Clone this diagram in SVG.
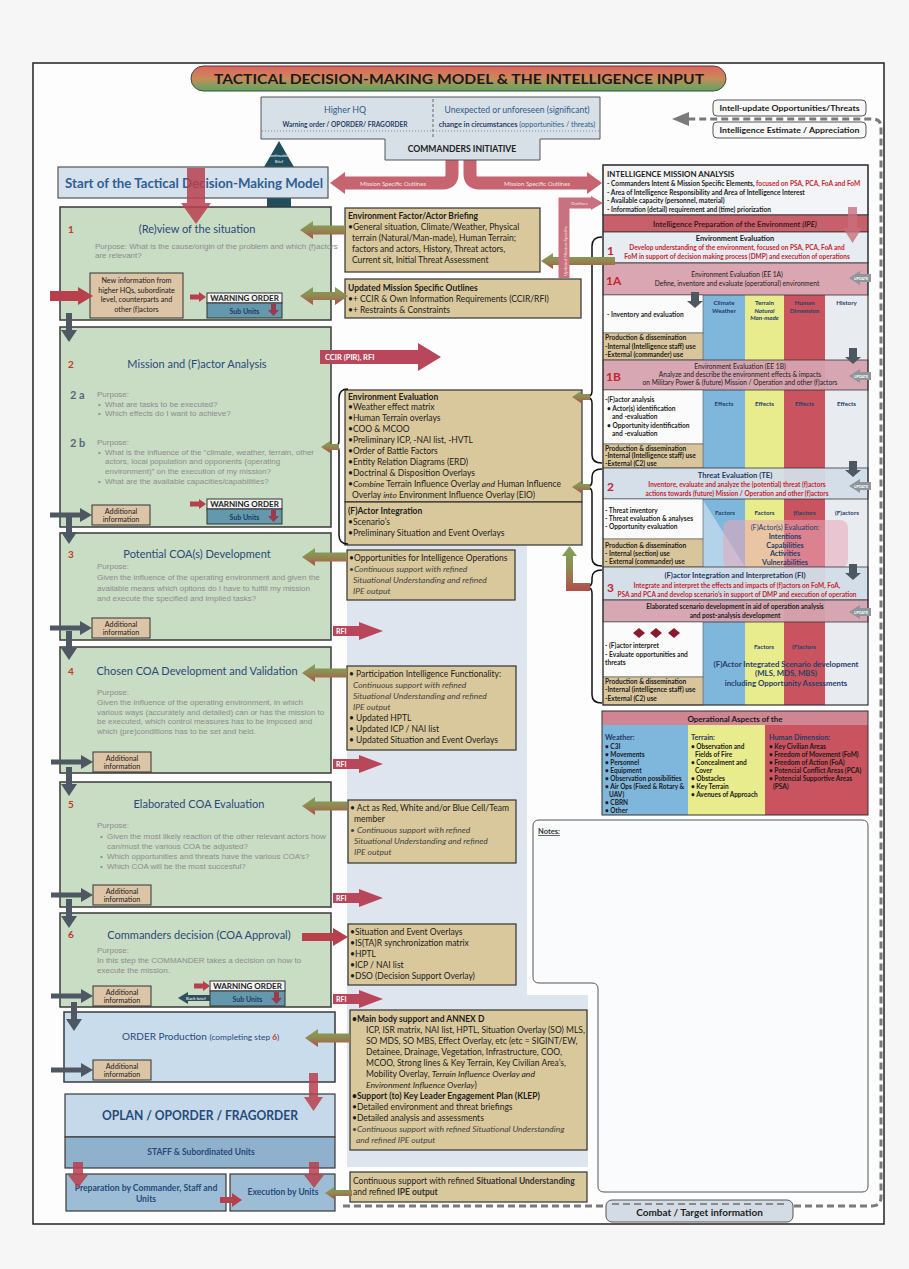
<svg xmlns="http://www.w3.org/2000/svg" width="909" height="1269" viewBox="0 0 909 1269">
<defs>
<style>
text{font-family:Lato,"Liberation Sans",sans-serif;}
.stp{fill:#c9dcc4;stroke:#3a3a3a;stroke-width:1.5;}
.tan{fill:#d8c89c;stroke:#333;stroke-width:1.2;}
.num{font-weight:bold;font-size:10px;fill:#c0392b;}
.hd{font-size:11px;fill:#2b4a78;text-anchor:middle;}
.pp{font-family:"Liberation Sans",Arial,sans-serif;font-size:8px;fill:#8c8c8c;}
.sub{font-weight:bold;font-size:11px;fill:#5a6878;}
.t{font-size:8.5px;fill:#1c1c1c;}
.tb{font-size:8.5px;fill:#1c1c1c;font-weight:bold;}
.ti{font-style:italic;fill:#444;}
.r{font-size:6.6px;fill:#1c1c1c;font-weight:bold;}
.rr{font-size:6.5px;fill:#c4262e;font-weight:bold;text-anchor:middle;}
.rc{font-size:6.6px;fill:#1c1c1c;text-anchor:middle;}
.cl{font-size:6.2px;fill:#24406a;font-weight:bold;text-anchor:middle;}
.big{font-size:12px;fill:#c4262e;font-weight:bold;}
.oa{font-size:6.5px;fill:#1a1a1a;font-weight:bold;}
.oh{font-size:7.2px;fill:#1f3a66;font-weight:bold;}
.wo{font-size:8px;font-weight:bold;fill:#222;text-anchor:middle;}
.su{font-size:7px;font-weight:bold;fill:#1f3a5f;text-anchor:middle;}
.ai{font-size:7.2px;fill:#222;text-anchor:middle;}
.wh{fill:#fff;font-weight:bold;}
</style>
<linearGradient id="gTitle" x1="0" y1="0" x2="0" y2="1">
<stop offset="0" stop-color="#e0625c"/><stop offset="0.5" stop-color="#c98a5c"/><stop offset="1" stop-color="#5aa860"/>
</linearGradient>
<linearGradient id="gGR" x1="0" y1="0" x2="0" y2="1">
<stop offset="0" stop-color="#7fa35a"/><stop offset="0.5" stop-color="#908a50"/><stop offset="1" stop-color="#b24e4a"/>
</linearGradient>
<polygon id="gl" points="0,0 13,-9 13,-4.5 45,-4.5 45,4.5 13,4.5 13,9" fill="url(#gGR)"/>
<polygon id="gls" points="0,0 9,-6 9,-3 18,-3 18,3 9,3 9,6" fill="url(#gGR)"/>
<polygon id="dr" points="0,-2.5 30,-2.5 30,-7 42,0 30,7 30,2.5 0,2.5" fill="#4d5862"/>
<polygon id="dd" points="-3,0 3,0 3,17 8,17 0,29 -8,17 -3,17" fill="#4d5862"/>
<polygon id="ddr" points="-4,0 4,0 4,9 8,9 0,16 -8,9 -4,9" fill="#4d5862"/>
<g id="rfi"><polygon points="0,-5 26,-5 26,-9 50,0 26,9 26,5 0,5" fill="#b8475c"/><text x="3" y="2.6" font-size="7" class="wh">RFI</text></g>
<g id="upd"><polygon points="22,-4 11,-4 11,-7 0,0 11,7 11,4 22,4" fill="#8e959b"/><text x="12" y="1.5" font-size="3.6" class="wh" text-anchor="middle">UPDATE</text></g>
<g id="addi"><rect x="0" y="0" width="58" height="20" fill="#dcc4a6" stroke="#333" stroke-width="1"/><text x="29" y="8.5" class="ai">Additional</text><text x="29" y="17" class="ai">information</text></g>
<g id="worder"><rect x="0" y="0" width="75" height="10" fill="#f4f4f4" stroke="#333" stroke-width="1"/><rect x="0" y="10" width="75" height="15" fill="#6499ad" stroke="#333" stroke-width="1"/><text x="37.5" y="8.4" class="wo">WARNING ORDER</text><text x="37.5" y="20.5" class="su">Sub Units</text><polygon points="64,11 69,11 69,17 72,17 66.5,23 61,17 64,17" fill="#9a3a4a"/></g>
<polygon id="rsm" points="0,-2.5 9,-2.5 9,-5 16,0 9,5 9,2.5 0,2.5" fill="#b8404d"/>
</defs>

<rect x="0" y="0" width="909" height="1269" fill="#f6f6f6"/>
<rect x="33" y="63" width="851" height="1161" fill="#fdfdfd" stroke="#222" stroke-width="1.5"/>

<g id="title">
<rect x="191" y="66" width="535" height="25" rx="12.5" fill="url(#gTitle)" stroke="#444" stroke-width="1"/>
<text x="459" y="83.5" font-size="14" font-weight="bold" fill="#1a1a1a" text-anchor="middle" textLength="490" lengthAdjust="spacingAndGlyphs">TACTICAL DECISION-MAKING MODEL  &amp; THE INTELLIGENCE INPUT</text>
</g>

<g id="connectors">
<path d="M343,1206 H872 Q881,1206 881,1197 V127 Q881,119 872,119 H688" fill="none" stroke="#7a7a7a" stroke-width="3" stroke-dasharray="7 4"/>
<polygon points="689,112 672,119 689,126" fill="#7a7a7a"/>
<polygon points="279,141 298,174 291,174 291,214 267,214 267,174 260,174" fill="#1f4f5c"/>
<text x="279" y="157" font-size="3.8" fill="#fff" text-anchor="middle">Continuation</text>
<text x="279" y="163" font-size="3.8" fill="#fff" text-anchor="middle">Brief</text>
<path d="M452,159 V174 Q452,183 443,183 H344" fill="none" stroke="#c66470" stroke-width="13"/>
<polygon points="345,172 330,183 345,194" fill="#c66470"/>
<text x="393" y="185.5" font-size="6" fill="#fbe3e6" text-anchor="middle">Mission Specific Outlines</text>
<path d="M470,159 V174 Q470,183 479,183 H588" fill="none" stroke="#c66470" stroke-width="13"/>
<polygon points="587,172 602,183 587,194" fill="#c66470"/>
<text x="537" y="185.5" font-size="6" fill="#fbe3e6" text-anchor="middle">Mission Specific Outlines</text>
</g>

<g id="higherhq">
<path d="M261,97 H600 V139 H540 V160 H385 V139 H261 Z" fill="#d7dfe7" stroke="#555" stroke-width="1"/>
<line x1="433" y1="99" x2="433" y2="137" stroke="#666" stroke-dasharray="3 2"/>
<line x1="262" y1="131" x2="599" y2="131" stroke="#8a8a8a" stroke-dasharray="1 2"/>
<text x="345" y="113" font-size="8.8" fill="#2f5b8c" text-anchor="middle">Higher HQ</text>
<text x="345" y="127" font-size="6.6" font-weight="bold" fill="#2a3f66" text-anchor="middle">Warning order / OPORDER/  FRAGORDER</text>
<text x="517" y="113" font-size="8.6" fill="#2f5b8c" text-anchor="middle">Unexpected or unforeseen (significant)</text>
<text x="517" y="127" font-size="7.3" fill="#2f5b8c" text-anchor="middle"><tspan font-weight="bold" fill="#2a3f66">change in circumstances</tspan> (opportunities / threats)</text>
<text x="462" y="152" font-size="8.6" font-weight="bold" fill="#222" text-anchor="middle">COMMANDERS INITIATIVE</text>
</g>

<g id="intelupdate">
<rect x="713" y="100" width="153" height="16" rx="4" fill="#f8f8f8" stroke="#555"/>
<text x="789.5" y="111" font-size="8" font-weight="bold" fill="#222" text-anchor="middle" textLength="140" lengthAdjust="spacingAndGlyphs">Intell-update Opportunities/Threats</text>
<rect x="713" y="122" width="153" height="16" rx="4" fill="#f8f8f8" stroke="#555"/>
<text x="789.5" y="133" font-size="8" font-weight="bold" fill="#222" text-anchor="middle" textLength="140" lengthAdjust="spacingAndGlyphs">Intelligence Estimate / Appreciation</text>
</g>

<g id="start">
<rect x="58" y="167" width="270" height="31" fill="#d5e1ed" stroke="#555" stroke-width="1.2"/>
<text x="65" y="188" font-size="13" font-weight="bold" fill="#2f5f94" textLength="258" lengthAdjust="spacingAndGlyphs">Start of the Tactical Decision-Making Model</text>
</g>

<g id="step1">
<rect class="stp" x="60" y="207" width="271" height="113"/>
<text class="num" x="68" y="233">1</text>
<text class="hd" x="197" y="233">(Re)view of the situation</text>
<text class="pp" x="95" y="249" font-size="7.6">Purpose: What is the cause/origin of the problem and which (f)actors</text>
<text class="pp" x="95" y="258" font-size="7.6">are relevant?</text>
<rect x="90" y="273" width="93" height="45" fill="#dcc4a6" stroke="#333"/>
<text class="ai" x="136.5" y="283" font-size="7.5">New information from</text>
<text class="ai" x="136.5" y="292.5" font-size="7.5">higher HQs, subordinate</text>
<text class="ai" x="136.5" y="302" font-size="7.5">level, counterparts and</text>
<text class="ai" x="136.5" y="311.5" font-size="7.5">other (f)actors</text>
<use href="#worder" x="207" y="293"/>
</g>

<g id="step2">
<rect class="stp" x="60" y="327" width="271" height="200"/>
<text class="num" x="68" y="368">2</text>
<text class="hd" x="197" y="368">Mission and (F)actor Analysis</text>
<text class="sub" x="70" y="399">2 a</text>
<text class="pp" x="97" y="397" font-size="7.8">Purpose:</text>
<text class="pp" x="98" y="406.5" font-size="7.8">•</text><text class="pp" x="105" y="406.5" font-size="7.8">What are tasks to be executed?</text>
<text class="pp" x="98" y="416" font-size="7.8">•</text><text class="pp" x="105" y="416" font-size="7.8">Which effects do I want to achieve?</text>
<text class="sub" x="70" y="447">2 b</text>
<text class="pp" x="97" y="445" font-size="7.8">Purpose:</text>
<text class="pp" x="98" y="454.5" font-size="7.8">•</text><text class="pp" x="105" y="454.5" font-size="7.8">What is the influence of the “climate, weather, terrain, other</text>
<text class="pp" x="105" y="464" font-size="7.8">actors, local population and opponents (operating</text>
<text class="pp" x="105" y="473.5" font-size="7.8">environment)” on the execution of my mission?</text>
<text class="pp" x="98" y="483.5" font-size="7.8">•</text><text class="pp" x="105" y="483.5" font-size="7.8">What are the available capacities/capabilities?</text>
<use href="#addi" x="92" y="505"/>
<use href="#worder" x="207" y="499"/>
</g>

<g id="step3">
<rect class="stp" x="60" y="533" width="271" height="107"/>
<text class="num" x="68" y="558">3</text>
<text class="hd" x="197" y="558">Potential COA(s) Development</text>
<text class="pp" x="97" y="569">Purpose:</text>
<text class="pp" x="97" y="580">Given the influence of the operating environment and given the</text>
<text class="pp" x="97" y="590.5">available means which options do I have to fulfill my mission</text>
<text class="pp" x="97" y="601">and execute the specified and implied tasks?</text>
<use href="#addi" x="92" y="618"/>
</g>

<g id="step4">
<rect class="stp" x="60" y="647" width="271" height="126"/>
<text class="num" x="68" y="675">4</text>
<text class="hd" x="197" y="675">Chosen COA Development and Validation</text>
<text class="pp" x="97" y="695">Purpose:</text>
<text class="pp" x="97" y="705">Given the influence of the operating environment, in which</text>
<text class="pp" x="97" y="714.5">various ways (accurately and detailed) can or has the mission to</text>
<text class="pp" x="97" y="724">be executed, which control measures has to be imposed and</text>
<text class="pp" x="97" y="733.5">which (pre)conditions has to be set and held.</text>
<use href="#addi" x="93" y="752"/>
</g>

<g id="step5">
<rect class="stp" x="60" y="782" width="271" height="125"/>
<text class="num" x="68" y="808">5</text>
<text class="hd" x="199" y="808">Elaborated COA Evaluation</text>
<text class="pp" x="97" y="828">Purpose:</text>
<text class="pp" x="100" y="839">•</text><text class="pp" x="107" y="839">Given the most likely reaction of the other relevant actors how</text>
<text class="pp" x="107" y="848.5">can/must the various COA be adjusted?</text>
<text class="pp" x="100" y="858.5">•</text><text class="pp" x="107" y="858.5">Which opportunities and threats have the various COA’s?</text>
<text class="pp" x="100" y="868.5">•</text><text class="pp" x="107" y="868.5">Which COA will be the most succesful?</text>
<use href="#addi" x="93" y="885"/>
</g>

<g id="step6">
<rect class="stp" x="60" y="913" width="271" height="94"/>
<text class="num" x="68" y="938">6</text>
<text class="hd" x="199" y="939">Commanders decision (COA Approval)</text>
<text class="pp" x="97" y="953">Purpose:</text>
<text class="pp" x="97" y="963">In this step the COMMANDER takes a decision on how to</text>
<text class="pp" x="97" y="972.5">execute the mission.</text>
<use href="#addi" x="93" y="986"/>
<use href="#worder" x="210" y="981"/>
<polygon points="178,998 188,992 188,995 210,995 210,1001 188,1001 188,1004" fill="#2f4f5f"/>
<text x="196" y="999.8" font-size="4.4" fill="#fff" text-anchor="middle">Back-brief</text>
</g>

<g id="orderprod">
<rect x="64" y="1012" width="271" height="70" fill="#c9dcec" stroke="#3a3a3a" stroke-width="1.5"/>
<text x="122" y="1040" font-size="10" fill="#2b4a78">ORDER Production <tspan font-size="8.4">(completing step <tspan fill="#c0392b" font-weight="bold">6</tspan>)</tspan></text>
<use href="#addi" x="93" y="1060"/>
</g>

<g id="oplan">
<rect x="65" y="1094" width="270" height="43" fill="#c5d9ea" stroke="#3a3a3a" stroke-width="1.2"/>
<text x="200" y="1120" font-size="12.5" font-weight="bold" fill="#254a7a" text-anchor="middle" textLength="196" lengthAdjust="spacingAndGlyphs">OPLAN / OPORDER / FRAGORDER</text>
</g>
<g id="staff">
<rect x="65" y="1137" width="270" height="31" fill="#8fb1cc" stroke="#3a3a3a" stroke-width="1.2"/>
<text x="201" y="1155" font-size="8.5" font-weight="bold" fill="#254a7a" text-anchor="middle">STAFF &amp; Subordinated Units</text>
</g>
<g id="prep">
<rect x="66" y="1174" width="160" height="37" fill="#9dbdd6" stroke="#3a3a3a" stroke-width="1.2"/>
<text x="146" y="1191" font-size="8.6" font-weight="bold" fill="#254a7a" text-anchor="middle">Preparation by Commander, Staff and</text>
<text x="146" y="1201.5" font-size="8.6" font-weight="bold" fill="#254a7a" text-anchor="middle">Units</text>
</g>
<g id="exec">
<rect x="230" y="1174" width="105" height="37" fill="#9dbdd6" stroke="#3a3a3a" stroke-width="1.2"/>
<text x="283" y="1195" font-size="8.5" font-weight="bold" fill="#254a7a" text-anchor="middle">Execution by Units</text>
</g>

<path d="M347,545 H527 V995 H588 V1167 H347 Z" fill="#dfe5ee"/>

<g id="envbrief">
<rect class="tan" x="345" y="208" width="195" height="64"/>
<text class="tb" x="348" y="219">Environment Factor/Actor Briefing</text>
<text class="t" x="348" y="230">•General situation, Climate/Weather, Physical</text>
<text class="t" x="352" y="241">terrain (Natural/Man-made), Human Terrain;</text>
<text class="t" x="352" y="252">factors and actors, History, Threat actors,</text>
<text class="t" x="352" y="263">Current sit, Initial Threat Assessment</text>
</g>
<g id="updmso">
<rect class="tan" x="345" y="279" width="236" height="39"/>
<text class="tb" x="348" y="291">Updated Mission Specific Outlines</text>
<text class="t" x="348" y="302">•+ CCIR &amp; Own Information Requirements (CCIR/RFI)</text>
<text class="t" x="348" y="312.5">•+ Restraints &amp; Constraints</text>
</g>
<g id="enveval">
<rect class="tan" x="345" y="390" width="237" height="112"/>
<text class="tb" x="348" y="400">Environment Evaluation</text>
<text class="t" x="348" y="410">•Weather effect matrix</text>
<text class="t" x="348" y="421">•Human Terrain overlays</text>
<text class="t" x="348" y="432">•COO &amp; MCOO</text>
<text class="t" x="348" y="443">•Preliminary ICP, -NAI list, -HVTL</text>
<text class="t" x="348" y="454">•Order of Battle Factors</text>
<text class="t" x="348" y="465">•Entity Relation Diagrams (ERD)</text>
<text class="t" x="348" y="476">•Doctrinal &amp; Disposition Overlays</text>
<text class="t" x="348" y="487">•<tspan font-style="italic">Combine</tspan> Terrain Influence Overlay <tspan font-style="italic">and</tspan> Human Influence</text>
<text class="t" x="352" y="498">Overlay <tspan font-style="italic">into</tspan> Environment Influence Overlay (EIO)</text>
</g>
<g id="factint">
<rect class="tan" x="345" y="502" width="237" height="43"/>
<text class="tb" x="348" y="514">(F)Actor Integration</text>
<text class="t" x="348" y="525">•Scenario’s</text>
<text class="t" x="348" y="536">•Preliminary Situation and Event Overlays</text>
</g>
<g id="oppint">
<rect class="tan" x="347" y="550" width="168" height="50"/>
<text class="t" x="349" y="561">•Opportunities for Intelligence Operations</text>
<text class="t ti" x="349" y="572">•Continuous support with refined</text>
<text class="t ti" x="353" y="583">Situational Understanding and refined</text>
<text class="t ti" x="353" y="594">IPE output</text>
</g>
<g id="particip">
<rect class="tan" x="347" y="666" width="169" height="84"/>
<text class="t" x="349" y="677">• Participation Intelligence Functionality:</text>
<text class="t ti" x="353" y="688">Continuous support with refined</text>
<text class="t ti" x="353" y="699">Situational Understanding and refined</text>
<text class="t ti" x="353" y="710">IPE output</text>
<text class="t" x="349" y="721">• Updated HPTL</text>
<text class="t" x="349" y="732">• Updated ICP / NAI list</text>
<text class="t" x="349" y="743">• Updated Situation and Event Overlays</text>
</g>
<g id="actred">
<rect class="tan" x="348" y="800" width="168" height="63"/>
<text class="t" x="350" y="811">• Act as Red, White and/or Blue Cell/Team</text>
<text class="t" x="354" y="822">member</text>
<text class="t ti" x="350" y="833">• Continuous support with refined</text>
<text class="t ti" x="354" y="844">Situational Understanding and refined</text>
<text class="t ti" x="354" y="855">IPE output</text>
</g>
<g id="sitevent">
<rect class="tan" x="348" y="924" width="168" height="61"/>
<text class="t" x="350" y="935">•Situation and Event Overlays</text>
<text class="t" x="350" y="946">•IS(TA)R synchronization matrix</text>
<text class="t" x="350" y="957">•HPTL</text>
<text class="t" x="350" y="968">•ICP / NAI list</text>
<text class="t" x="350" y="979">•DSO (Decision Support Overlay)</text>
</g>
<g id="mainbody">
<rect class="tan" x="350" y="1010" width="237" height="140"/>
<text class="tb" x="352" y="1022" font-size="8">•Main body support and ANNEX D</text>
<text class="t" x="366" y="1033" font-size="8">ICP, ISR matrix, NAI list, HPTL, Situation Overlay (SO) MLS,</text>
<text class="t" x="366" y="1044" font-size="8">SO MDS, SO MBS, Effect Overlay, etc (etc = SIGINT/EW,</text>
<text class="t" x="366" y="1055" font-size="8">Detainee, Drainage, Vegetation, Infrastructure, COO,</text>
<text class="t" x="366" y="1066" font-size="8">MCOO, Strong lines &amp; Key Terrain, Key Civilian Area’s,</text>
<text class="t" x="366" y="1077" font-size="8">Mobility Overlay, <tspan font-style="italic">Terrain Influence Overlay and</tspan></text>
<text class="t" x="366" y="1088" font-size="8"><tspan font-style="italic">Environment Influence Overlay</tspan>)</text>
<text class="tb" x="352" y="1099" font-size="8">•Support (to) Key Leader Engagement Plan (KLEP)</text>
<text class="t" x="352" y="1110" font-size="8">•Detailed environment  and threat briefings</text>
<text class="t" x="352" y="1121" font-size="8">•Detailed analysis and assessments</text>
<text class="t ti" x="352" y="1132" font-size="8">•Continuous support with refined Situational Understanding</text>
<text class="t ti" x="356" y="1143" font-size="8">and refined IPE output</text>
</g>
<g id="contsup">
<rect class="tan" x="350" y="1172" width="237" height="30"/>
<text class="t" x="353" y="1184" font-size="8" fill="#555">Continuous support with refined <tspan font-weight="bold" fill="#333">Situational Understanding</tspan></text>
<text class="t" x="353" y="1195" font-size="8" fill="#555">and refined <tspan font-weight="bold" fill="#333">IPE output</tspan></text>
</g>

<g id="rightcol">
<rect x="703" y="295" width="42" height="410" fill="#7fb6dc"/>
<rect x="745" y="295" width="39" height="410" fill="#e9ec8c"/>
<rect x="784" y="295" width="41" height="410" fill="#c9545f"/>
<rect x="825" y="295" width="43" height="410" fill="#e8ecf0"/>
<polygon points="703,500 745,567 703,567" fill="#fff" opacity="0.4"/>
<rect x="723" y="520" width="125" height="48" rx="8" fill="#eaa6b8" opacity="0.55"/>

<rect x="603" y="165" width="265" height="50" fill="#f2f4f7" stroke="#333"/>
<text x="607" y="177" font-size="7.9" font-weight="bold" fill="#1a1a1a">INTELLIGENCE MISSION ANALYSIS</text>
<text class="r" x="607" y="186">- Commanders Intent &amp; Mission Specific Elements, <tspan fill="#c4262e">focused on PSA, PCA, FoA and FoM</tspan></text>
<text class="r" x="607" y="195">- Area of Intelligence Responsibility and Area of Intelligence Interest</text>
<text class="r" x="607" y="203">- Available capacity (personnel, material)</text>
<text class="r" x="607" y="211.5">- Information (detail) requirement and (time) priorization</text>

<rect x="603" y="215" width="265" height="17" fill="#c8606c" stroke="#333" stroke-width="0.8"/>
<text x="735" y="227" font-size="7.6" font-weight="bold" fill="#3a1a1a" text-anchor="middle">Intelligence Preparation of the Environment <tspan font-style="italic">(IPE)</tspan></text>

<rect x="603" y="232" width="265" height="31" fill="#e6ecf1" stroke="#333" stroke-width="0.8"/>
<text x="735" y="241" font-size="7.4" font-weight="bold" fill="#1a1a1a" text-anchor="middle">Environment Evaluation</text>
<text class="big" x="607" y="255">1</text>
<text class="rr" x="737" y="250">Develop understanding of the environment, focused on PSA, PCA, FoA and</text>
<text class="rr" x="737" y="259">FoM in support of decision making process (DMP) and execution of operations</text>

<rect x="603" y="263" width="265" height="32" fill="#d9a6b2" stroke="#333" stroke-width="0.8"/>
<text class="big" x="606" y="285" font-size="10.5">1A</text>
<text class="rc" x="737" y="277">Environment Evaluation (EE 1A)</text>
<text class="rc" x="737" y="286">Define, inventore and evaluate (operational) environment</text>

<rect x="603" y="295" width="100" height="38" fill="#fbfbfb" stroke="#555" stroke-width="0.6"/>
<text class="r" x="607" y="317">- Inventory and evaluation</text>
<rect x="603" y="333" width="100" height="27" fill="#d9c59b" stroke="#555" stroke-width="0.6"/>
<text class="r" x="605" y="340">Production &amp; dissemination</text>
<text class="r" x="605" y="348.5" font-weight="normal">-Internal (Intelligence staff) use</text>
<text class="r" x="605" y="357" font-weight="normal">-External (commander) use</text>
<text class="cl" x="724" y="305">Climate</text><text class="cl" x="724" y="312.5">Weather</text>
<text class="cl" x="764.5" y="305">Terrain</text><text class="cl" x="764.5" y="312.5" font-style="italic" font-weight="normal">Natural</text><text class="cl" x="764.5" y="320" font-style="italic" font-weight="normal">Man-made</text>
<text class="cl" x="804.5" y="305">Human</text><text class="cl" x="804.5" y="312.5">Dimension</text>
<text class="cl" x="846.5" y="305">History</text>

<rect x="603" y="360" width="265" height="30" fill="#d6a3b0" stroke="#333" stroke-width="0.8" opacity="0.95"/>
<text class="big" x="606" y="381" font-size="10.5">1B</text>
<text class="rc" x="740" y="369">Environment Evaluation (EE 1B)</text>
<text class="rc" x="740" y="377">Analyze and describe the environment effects &amp; impacts</text>
<text class="rc" x="740" y="385">on Military Power &amp; (future) Mission / Operation and other (f)actors</text>

<rect x="603" y="390" width="100" height="54" fill="#fbfbfb" stroke="#555" stroke-width="0.6"/>
<text class="r" x="605" y="402">-(F)actor analysis</text>
<text class="r" x="607" y="410.5">• Actor(s) identification</text>
<text class="r" x="612" y="418.5">and -evaluation</text>
<text class="r" x="607" y="427.5">• Opportunity identification</text>
<text class="r" x="612" y="435.5">and -evaluation</text>
<rect x="603" y="444" width="100" height="24" fill="#d9c59b" stroke="#555" stroke-width="0.6"/>
<text class="r" x="605" y="451">Production &amp; dissemination</text>
<text class="r" x="605" y="458" font-weight="normal">-Internal (Intelligence staff) use</text>
<text class="r" x="605" y="465.5" font-weight="normal">-External (C2) use</text>
<text class="cl" x="724" y="406">Effects</text><text class="cl" x="764.5" y="406">Effects</text><text class="cl" x="804.5" y="406">Effects</text><text class="cl" x="846.5" y="406">Effects</text>

<rect x="603" y="468" width="265" height="31" fill="#d3dee8" stroke="#333" stroke-width="0.8" opacity="0.95"/>
<text x="735" y="478" font-size="7.6" font-weight="bold" fill="#1f3a66" text-anchor="middle">Threat Evaluation (TE)</text>
<text class="big" x="607" y="491">2</text>
<text class="rr" x="737" y="487">Inventore, evaluate and analyze the (potential) threat (f)actors</text>
<text class="rr" x="737" y="495.5">actions towards (future) Mission / Operation and other (f)actors</text>

<rect x="603" y="499" width="100" height="40" fill="#fbfbfb" stroke="#555" stroke-width="0.6"/>
<text class="r" x="605" y="513">- Threat inventory</text>
<text class="r" x="605" y="521">- Threat evaluation &amp; analyses</text>
<text class="r" x="605" y="529">- Opportunity evaluation</text>
<rect x="603" y="539" width="100" height="28" fill="#d9c59b" stroke="#555" stroke-width="0.6"/>
<text class="r" x="605" y="548">Production &amp; dissemination</text>
<text class="r" x="605" y="556" font-weight="normal">- Internal (section) use</text>
<text class="r" x="605" y="564" font-weight="normal">- External (commander) use</text>
<text class="cl" x="725" y="515">Factors</text><text class="cl" x="764.5" y="515">Factors</text><text class="cl" x="804.5" y="515">(f)actors</text><text class="cl" x="847" y="515">(F)actors</text>
<text x="785" y="530" font-size="7.2" fill="#24406a" text-anchor="middle">(F)Actor(s) Evaluation:</text>
<text x="785" y="539" font-size="7.2" font-weight="bold" fill="#24406a" text-anchor="middle">Intentions</text>
<text x="785" y="547.5" font-size="7.2" font-weight="bold" fill="#24406a" text-anchor="middle">Capabilities</text>
<text x="785" y="556" font-size="7.2" font-weight="bold" fill="#24406a" text-anchor="middle">Activities</text>
<text x="785" y="565" font-size="7.2" font-weight="bold" fill="#24406a" text-anchor="middle">Vulnerabilities</text>

<rect x="603" y="567" width="265" height="33" fill="#d3dee8" stroke="#333" stroke-width="0.8" opacity="0.95"/>
<text x="735" y="578" font-size="7.6" font-weight="bold" fill="#1f3a66" text-anchor="middle">(F)actor Integration and Interpretation (FI)</text>
<text class="big" x="607" y="592">3</text>
<text class="rr" x="737" y="588">Integrate and interpret the effects and impacts of (f)actors on FoM, FoA,</text>
<text class="rr" x="737" y="597">PSA and PCA and develop scenario’s in support of DMP and execution of operation</text>

<rect x="603" y="600" width="265" height="22" fill="#d6a3b0" stroke="#333" stroke-width="0.8" opacity="0.95"/>
<text class="rc" x="735" y="609" font-weight="bold">Elaborated scenario development in aid of operation analysis</text>
<text class="rc" x="735" y="618" font-weight="bold">and post-analysis development</text>

<rect x="603" y="622" width="100" height="55" fill="#fbfbfb" stroke="#555" stroke-width="0.6"/>
<polygon points="633,633 639,628 645,633 639,638" fill="#8b1a2b"/>
<polygon points="650,633 656,628 662,633 656,638" fill="#8b1a2b"/>
<polygon points="668,633 674,628 680,633 674,638" fill="#8b1a2b"/>
<text class="r" x="605" y="648">- (F)actor interpret</text>
<text class="r" x="605" y="657">- Evaluate opportunities and</text>
<text class="r" x="605" y="665">threats</text>
<rect x="603" y="677" width="100" height="28" fill="#d9c59b" stroke="#555" stroke-width="0.6"/>
<text class="r" x="605" y="684">Production &amp; dissemination</text>
<text class="r" x="605" y="692" font-weight="normal">-Internal (intelligence staff) use</text>
<text class="r" x="605" y="700.5" font-weight="normal">-External (C2) use</text>
<text class="cl" x="764" y="649">Factors</text><text class="cl" x="804" y="649">(F)actors</text>
<text x="786" y="667" font-size="7.8" font-weight="bold" fill="#24406a" text-anchor="middle">(F)Actor Integrated Scenario development</text>
<text x="786" y="676" font-size="7.8" font-weight="bold" fill="#24406a" text-anchor="middle">(MLS, MDS, MBS)</text>
<text x="786" y="686" font-size="7.8" font-weight="bold" fill="#24406a" text-anchor="middle">including Opportunity Assessments</text>

<rect x="603" y="165" width="265" height="540" fill="none" stroke="#333" stroke-width="1.2"/>
<polygon points="848,207 857,207 857,228 862,228 852.5,243 843,228 848,228" fill="#c8707a" opacity="0.8"/>
<use href="#ddr" x="695" y="292"/>
<use href="#ddr" x="853" y="348"/>
<use href="#ddr" x="853" y="461"/>
<use href="#ddr" x="853" y="564"/>
<use href="#upd" x="849" y="278"/>
<use href="#upd" x="849" y="376"/>
<use href="#upd" x="849" y="486"/>
<use href="#upd" x="849" y="612"/>
</g>

<g id="opaspects">
<rect x="602" y="725" width="86" height="90" fill="#7fb6dc"/>
<rect x="688" y="725" width="77" height="90" fill="#e9ec8c"/>
<rect x="765" y="725" width="103" height="90" fill="#c9545f"/>
<rect x="602" y="711" width="266" height="14" fill="#d08592"/>
<rect x="602" y="711" width="266" height="104" fill="none" stroke="#333" stroke-width="1"/>
<text x="735" y="721.5" font-size="8" font-weight="bold" fill="#1a1a1a" text-anchor="middle">Operational Aspects of the</text>
<text class="oh" x="605" y="740">Weather:</text>
<text class="oa" x="605" y="749">• C3I</text>
<text class="oa" x="605" y="757">• Movements</text>
<text class="oa" x="605" y="765">• Personnel</text>
<text class="oa" x="605" y="773">• Equipment</text>
<text class="oa" x="605" y="781">• Observation possibilities</text>
<text class="oa" x="605" y="789">• Air Ops (Fixed &amp; Rotary &amp;</text>
<text class="oa" x="609" y="797">UAV)</text>
<text class="oa" x="605" y="805">• CBRN</text>
<text class="oa" x="605" y="813">• Other</text>
<text class="oh" x="691" y="740">Terrain:</text>
<text class="oa" x="691" y="749">• Observation and</text>
<text class="oa" x="695" y="757">Fields of Fire</text>
<text class="oa" x="691" y="765">• Concealment and</text>
<text class="oa" x="695" y="773">Cover</text>
<text class="oa" x="691" y="781">• Obstacles</text>
<text class="oa" x="691" y="789">• Key Terrain</text>
<text class="oa" x="691" y="797">• Avenues of Approach</text>
<text class="oh" x="769" y="740">Human Dimension:</text>
<text class="oa" x="769" y="749">• Key Civilian Areas</text>
<text class="oa" x="769" y="757">• Freedom of Movement (FoM)</text>
<text class="oa" x="769" y="765">• Freedom of Action (FoA)</text>
<text class="oa" x="769" y="773">• Potencial Conflict Areas (PCA)</text>
<text class="oa" x="769" y="781">• Potencial Supportive Areas</text>
<text class="oa" x="773" y="789">(PSA)</text>
</g>

<g id="notes">
<path d="M539,820 H862 Q868,820 868,826 V1186 Q868,1192 862,1192 H604 Q598,1192 598,1186 V989 Q598,983 592,983 H539 Q533,983 533,977 V826 Q533,820 539,820 Z" fill="#fafbfc" stroke="#555" stroke-width="1"/>
<text x="538" y="834" font-size="7.5" font-weight="bold" fill="#333" text-decoration="underline">Notes:</text>
</g>

<g id="combat">
<rect x="606" y="1200" width="187" height="22" rx="6" fill="#d3dce4" stroke="#555" stroke-width="1"/>
<line x1="612" y1="1204" x2="788" y2="1204" stroke="#8a8a8a" stroke-width="2" stroke-dasharray="7 4"/>
<text x="699.5" y="1216" font-size="10" font-weight="bold" fill="#222" text-anchor="middle">Combat / Target information</text>
</g>

<g id="connectors2">
<polygon points="187,168 205,168 205,203 211,203 196,224 181,203 187,203" fill="#b8404d" opacity="0.85"/>
<use href="#dd" x="69" y="313"/>
<use href="#dd" x="69" y="515"/>
<use href="#dd" x="69" y="631"/>
<use href="#dd" x="69" y="767"/>
<use href="#dd" x="69" y="899"/>
<use href="#dd" x="74" y="1002"/>
<use href="#dr" x="50" y="515"/>
<use href="#dr" x="50" y="628"/>
<use href="#dr" x="51" y="762"/>
<use href="#dr" x="51" y="895"/>
<use href="#dr" x="51" y="996"/>
<use href="#dr" x="51" y="1070"/>
<polygon points="50,291 78,291 78,287 93,296 78,305 78,301 50,301" fill="#b8404d"/>
<use href="#rsm" x="190" y="297"/>
<use href="#rsm" x="190" y="504"/>
<use href="#rsm" x="194" y="986"/>
<use href="#gl" x="300" y="230"/>
<use href="#gl" x="302" y="557"/>
<use href="#gl" x="302" y="673"/>
<use href="#gl" x="302" y="806"/>
<use href="#gl" x="305" y="1038"/>
<polygon points="300,296 313,287 313,292 335,292 335,287 348,296 335,305 335,300 313,300 313,305" fill="url(#gGR)"/>
<polygon points="325,1193 334,1187 334,1190 352,1190 352,1196 334,1196 334,1199" fill="url(#gGR)"/>
<polygon points="302,933 333,933 333,928 348,937 333,946 333,941 302,941" fill="#b8404d"/>
<polygon points="320,350 418,350 418,343 441,357 418,371 418,364 320,364" fill="#b8475c"/>
<text x="325" y="360" font-size="7.5" class="wh">CCIR (PIR), RFI</text>
<use href="#rfi" x="333" y="631"/>
<use href="#rfi" x="333" y="764"/>
<use href="#rfi" x="333" y="898"/>
<use href="#rfi" x="333" y="999"/>
<polygon points="309,1073 318,1073 318,1097 323,1097 313.5,1111 304,1097 309,1097" fill="#b8404d" opacity="0.85"/>
<polygon points="73,1162 83,1162 83,1175 88,1175 78,1188 68,1175 73,1175" fill="#b8404d" opacity="0.85"/>
<polygon points="309,1162 319,1162 319,1175 324,1175 314,1188 304,1175 309,1175" fill="#b8404d" opacity="0.85"/>
<polygon points="220,1197 232,1197 232,1193 242,1200 232,1207 232,1203 220,1203" fill="#b8404d"/>
<path d="M348,389 Q339,389 339,398 V441 Q339,446 334,446 Q339,446 339,451 V535 Q339,544 348,544" fill="none" stroke="#111" stroke-width="1.5"/>
<use href="#gls" x="321" y="447"/>
<path d="M602,237 Q592,237 592,246 V391 Q592,397 586,397 Q592,397 592,403 V455 Q592,463 602,463" fill="none" stroke="#111" stroke-width="1.5"/>
<path d="M602,469 Q592,469 592,477 V481 Q592,487 586,487 Q592,487 592,493 V558 Q592,566 602,566" fill="none" stroke="#111" stroke-width="1.5"/>
<path d="M602,570 Q592,570 592,578 V581 Q592,587 586,587 Q592,587 592,593 V695 Q592,703 602,703" fill="none" stroke="#111" stroke-width="1.5"/>
<use href="#gls" x="572" y="397"/>
<use href="#gls" x="572" y="487"/>
<polygon points="566,556 566,591 590,591 590,583 573,583 573,556 577,556 569.5,546 562,556" fill="url(#gGR)"/>
<polygon points="541,261 553,253 553,257 615,257 615,265 553,265 553,269" fill="url(#gGR)"/>
<path d="M564,278 V203 H592" fill="none" stroke="#c9727f" stroke-width="11"/>
<polygon points="591,196 603,203 591,210" fill="#c9727f"/>
<text transform="translate(566.5,276) rotate(-90)" font-size="4.5" fill="#fbe3e6">Updated Mission Specific</text>
<text x="571" y="205" font-size="4.5" fill="#fbe3e6">Outlines</text>
</g>
</svg>
